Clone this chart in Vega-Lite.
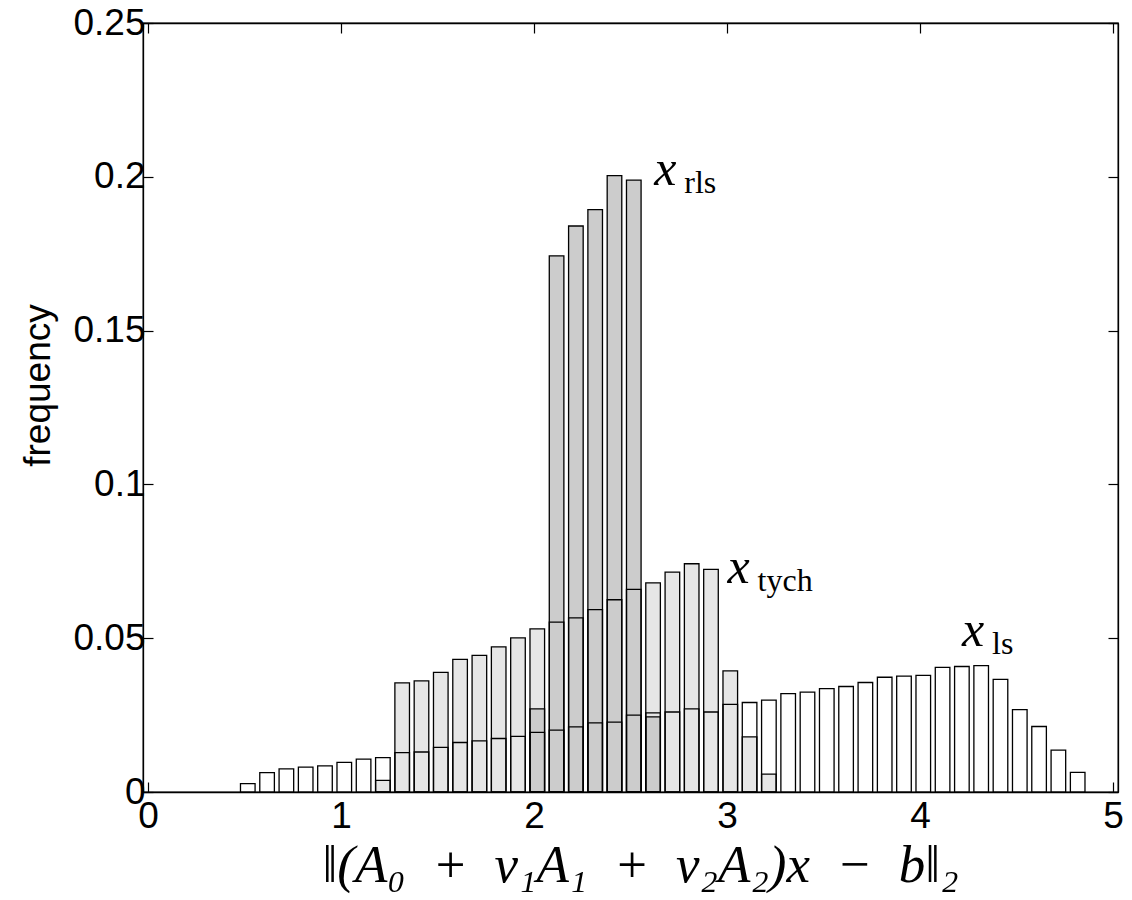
{
  "$schema": "https://vega.github.io/schema/vega-lite/v6.json",
  "width": 975,
  "height": 769,
  "autosize": "none",
  "padding": {"left": 143, "top": 23, "right": 14, "bottom": 108},
  "background": "white",
  "config": {
    "view": {"stroke": "black", "strokeWidth": 1.3},
    "axis": {
      "labelFont": "Liberation Sans",
      "labelFontSize": 37,
      "labelColor": "black",
      "domainColor": "black",
      "domainWidth": 1.3,
      "tickColor": "black",
      "tickWidth": 1.2,
      "grid": false
    }
  },
  "datasets": {
    "hist": [
      {"series": "ls", "center": 0.517, "freq": 0.0027},
      {"series": "ls", "center": 0.617, "freq": 0.0063},
      {"series": "ls", "center": 0.717, "freq": 0.0075},
      {"series": "ls", "center": 0.817, "freq": 0.0081},
      {"series": "ls", "center": 0.917, "freq": 0.0085},
      {"series": "ls", "center": 1.017, "freq": 0.0096},
      {"series": "ls", "center": 1.117, "freq": 0.0107},
      {"series": "ls", "center": 1.217, "freq": 0.0112},
      {"series": "ls", "center": 1.317, "freq": 0.0128},
      {"series": "ls", "center": 1.417, "freq": 0.0130},
      {"series": "ls", "center": 1.517, "freq": 0.0145},
      {"series": "ls", "center": 1.617, "freq": 0.0161},
      {"series": "ls", "center": 1.717, "freq": 0.0166},
      {"series": "ls", "center": 1.817, "freq": 0.0174},
      {"series": "ls", "center": 1.917, "freq": 0.0181},
      {"series": "ls", "center": 2.017, "freq": 0.0194},
      {"series": "ls", "center": 2.117, "freq": 0.0201},
      {"series": "ls", "center": 2.217, "freq": 0.0212},
      {"series": "ls", "center": 2.317, "freq": 0.0225},
      {"series": "ls", "center": 2.417, "freq": 0.0227},
      {"series": "ls", "center": 2.517, "freq": 0.0250},
      {"series": "ls", "center": 2.617, "freq": 0.0257},
      {"series": "ls", "center": 2.717, "freq": 0.0260},
      {"series": "ls", "center": 2.817, "freq": 0.0270},
      {"series": "ls", "center": 2.917, "freq": 0.0260},
      {"series": "ls", "center": 3.017, "freq": 0.0285},
      {"series": "ls", "center": 3.117, "freq": 0.0291},
      {"series": "ls", "center": 3.217, "freq": 0.0299},
      {"series": "ls", "center": 3.317, "freq": 0.0320},
      {"series": "ls", "center": 3.417, "freq": 0.0325},
      {"series": "ls", "center": 3.517, "freq": 0.0336},
      {"series": "ls", "center": 3.617, "freq": 0.0343},
      {"series": "ls", "center": 3.717, "freq": 0.0356},
      {"series": "ls", "center": 3.817, "freq": 0.0373},
      {"series": "ls", "center": 3.917, "freq": 0.0377},
      {"series": "ls", "center": 4.017, "freq": 0.0379},
      {"series": "ls", "center": 4.117, "freq": 0.0405},
      {"series": "ls", "center": 4.217, "freq": 0.0408},
      {"series": "ls", "center": 4.317, "freq": 0.0411},
      {"series": "ls", "center": 4.417, "freq": 0.0366},
      {"series": "ls", "center": 4.517, "freq": 0.0268},
      {"series": "ls", "center": 4.617, "freq": 0.0213},
      {"series": "ls", "center": 4.717, "freq": 0.0136},
      {"series": "ls", "center": 4.817, "freq": 0.0064},
      {"series": "tych", "center": 1.217, "freq": 0.0038},
      {"series": "tych", "center": 1.317, "freq": 0.0355},
      {"series": "tych", "center": 1.417, "freq": 0.0361},
      {"series": "tych", "center": 1.517, "freq": 0.0389},
      {"series": "tych", "center": 1.617, "freq": 0.0431},
      {"series": "tych", "center": 1.717, "freq": 0.0444},
      {"series": "tych", "center": 1.817, "freq": 0.0472},
      {"series": "tych", "center": 1.917, "freq": 0.0501},
      {"series": "tych", "center": 2.017, "freq": 0.0530},
      {"series": "tych", "center": 2.117, "freq": 0.0552},
      {"series": "tych", "center": 2.217, "freq": 0.0566},
      {"series": "tych", "center": 2.317, "freq": 0.0593},
      {"series": "tych", "center": 2.417, "freq": 0.0625},
      {"series": "tych", "center": 2.517, "freq": 0.0659},
      {"series": "tych", "center": 2.617, "freq": 0.0680},
      {"series": "tych", "center": 2.717, "freq": 0.0715},
      {"series": "tych", "center": 2.817, "freq": 0.0742},
      {"series": "tych", "center": 2.917, "freq": 0.0724},
      {"series": "tych", "center": 3.017, "freq": 0.0394},
      {"series": "tych", "center": 3.117, "freq": 0.0179},
      {"series": "tych", "center": 3.217, "freq": 0.0058},
      {"series": "rls", "center": 2.017, "freq": 0.0270},
      {"series": "rls", "center": 2.117, "freq": 0.1743},
      {"series": "rls", "center": 2.217, "freq": 0.1840},
      {"series": "rls", "center": 2.317, "freq": 0.1893},
      {"series": "rls", "center": 2.417, "freq": 0.2004},
      {"series": "rls", "center": 2.517, "freq": 0.1989},
      {"series": "rls", "center": 2.617, "freq": 0.0244}
    ],
    "labels": [
      {"sub": "rls", "xpos": 2.623, "ypos": 0.1974},
      {"sub": "tych", "xpos": 3.003, "ypos": 0.0678},
      {"sub": "ls", "xpos": 4.218, "ypos": 0.0474}
    ]
  },
  "layer": [
    {
      "data": {"name": "hist"},
      "mark": {"type": "bar", "width": 14.6, "strokeWidth": 0},
      "encoding": {
        "x": {
          "field": "center", "type": "quantitative",
          "scale": {"domain": [0, 5], "nice": false, "zero": false},
          "axis": {
            "orient": "bottom",
            "values": [0, 1, 2, 3, 4, 5],
            "format": "~g",
            "tickSize": -10,
            "labelPadding": 16,
            "labelFlush": false,
            "labelOverlap": false,
            "title": "\u2016(A\u2080\u2002+\u2002v\u2081A\u2081\u2002+\u2002v\u2082A\u2082)x\u2002\u2212\u2002b\u2016\u2082",
            "titleFont": "Liberation Serif",
            "titleFontStyle": "italic",
            "titleFontWeight": "normal",
            "titleFontSize": 53,
            "titleColor": "black",
            "titleX": 497,
            "titleY": 89,
            "titleBaseline": "alphabetic",
            "titleAlign": "center"
          }
        },
        "y": {
          "field": "freq", "type": "quantitative", "stack": null,
          "scale": {"domain": [0, 0.25], "nice": false},
          "axis": {
            "orient": "left",
            "values": [0, 0.05, 0.1, 0.15, 0.2, 0.25],
            "format": "~g",
            "tickSize": -10,
            "labelPadding": 8,
            "labelFlush": false,
            "labelOverlap": false,
            "title": "frequency",
            "titleFont": "Liberation Sans",
            "titleFontWeight": "normal",
            "titleFontSize": 37,
            "titleColor": "black",
            "titleAngle": -90,
            "titleX": -94,
            "titleY": 362,
            "titleBaseline": "alphabetic",
            "titleAlign": "center"
          }
        },
        "color": {
          "field": "series", "type": "nominal",
          "scale": {"domain": ["ls", "tych", "rls"], "range": ["#ffffff", "#e6e6e6", "#cccccc"]},
          "legend": null
        }
      }
    },
    {
      "data": {"name": "hist"},
      "mark": {"type": "bar", "width": 14.6, "fillOpacity": 0, "stroke": "black", "strokeWidth": 1.3},
      "encoding": {
        "x": {
          "field": "center", "type": "quantitative",
          "axis": {"orient": "top", "values": [0, 1, 2, 3, 4, 5], "labels": false, "tickSize": -10, "title": null}
        },
        "y": {
          "field": "freq", "type": "quantitative", "stack": null,
          "axis": {"orient": "right", "values": [0, 0.05, 0.1, 0.15, 0.2, 0.25], "labels": false, "tickSize": -10, "title": null}
        }
      }
    },
    {
      "data": {"name": "labels"},
      "mark": {"type": "text", "text": "x", "font": "Liberation Serif", "fontStyle": "italic", "fontSize": 50, "align": "left", "baseline": "alphabetic", "color": "black"},
      "encoding": {
        "x": {"field": "xpos", "type": "quantitative", "axis": null},
        "y": {"field": "ypos", "type": "quantitative", "axis": null}
      }
    },
    {
      "data": {"name": "labels"},
      "mark": {"type": "text", "font": "Liberation Serif", "fontSize": 32, "align": "left", "baseline": "alphabetic", "dx": 30, "dy": 8, "color": "black"},
      "encoding": {
        "x": {"field": "xpos", "type": "quantitative", "axis": null},
        "y": {"field": "ypos", "type": "quantitative", "axis": null},
        "text": {"field": "sub", "type": "nominal"}
      }
    }
  ],
  "resolve": {"axis": {"x": "independent", "y": "independent"}}
}
